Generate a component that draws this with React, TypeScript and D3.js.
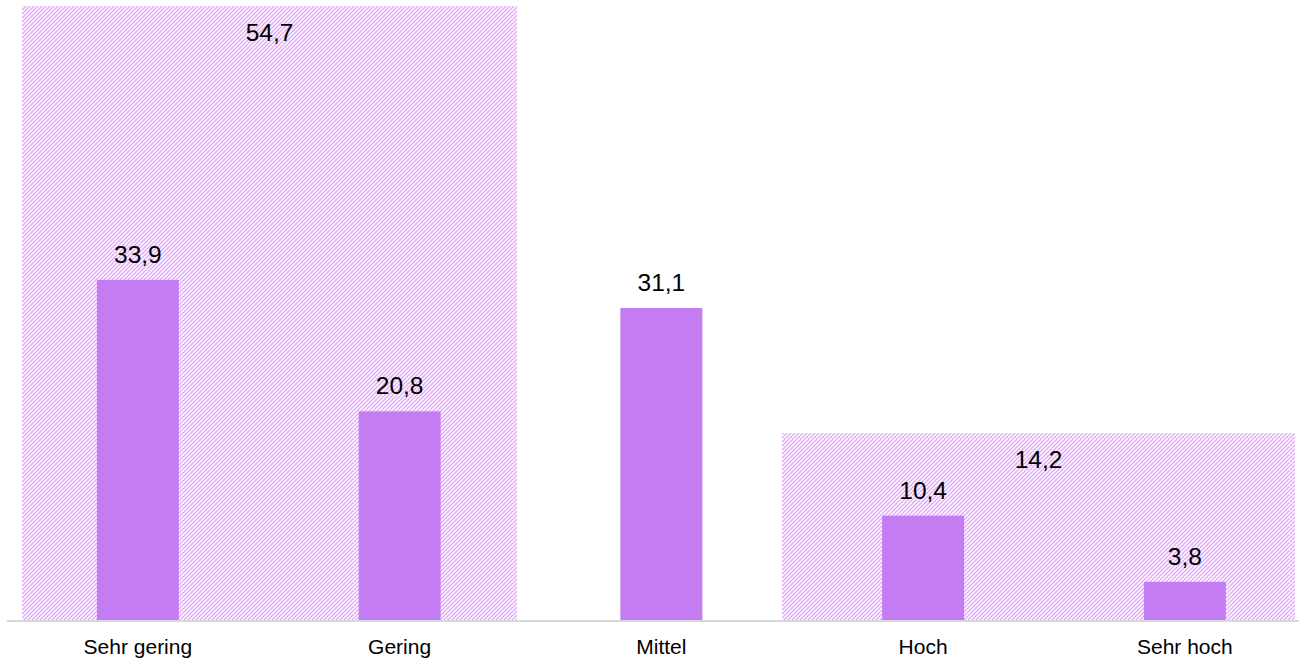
import React from "react";
import * as d3 from "d3";

const categories = ["Sehr gering", "Gering", "Mittel", "Hoch", "Sehr hoch"];
const values = [33.9, 20.8, 31.1, 10.4, 3.8];
const valueLabels = ["33,9", "20,8", "31,1", "10,4", "3,8"];

const groupValues = [54.7, 14.2];
const groupLabels = ["54,7", "14,2"];
const groupStart = [0.057, 2.961];
const groupEnd = [1.948, 4.921];

const W = 1299;
const H = 658;
const left = 7;
const step = 261.75;
const baseY = 620;
const topY = 6;

export default function App() {
  const x = d3.scaleBand<string>().domain(categories).range([left, left + step * categories.length]).paddingInner(0).paddingOuter(0);
  const xi = d3.scaleLinear().domain([0, categories.length]).range([left, left + step * categories.length]);
  const y = d3.scaleLinear().domain([0, 61.2]).range([baseY, topY]);
  const y2 = d3.scaleLinear().domain([0, 46.6]).range([baseY, topY]).clamp(true);
  const barW = 82;
  const font = "Arial, 'Liberation Sans', sans-serif";

  return (
    <svg width={W} height={H} style={{ position: "absolute", left: 0, top: 0 }} fontFamily={font}>
      <defs>
        <pattern id="hatch" width={4} height={4} patternUnits="userSpaceOnUse">
          <path d="M-1,1 l2,-2 M0,4 l4,-4 M3,5 l2,-2" stroke="#e2a6f9" strokeWidth={1.3} />
        </pattern>
      </defs>
      {groupValues.map((v, i) => {
        const x0 = Math.round(xi(groupStart[i]));
        const x1 = Math.round(Math.min(xi(groupEnd[i]), W));
        const yt = Math.round(y2(v));
        return (
          <g key={"g" + i}>
            <rect x={x0} y={yt} width={x1 - x0} height={baseY - yt} fill="url(#hatch)" />
            <text x={(x0 + x1) / 2} y={yt + 35} textAnchor="middle" fontSize={24.5} fill="#000">
              {groupLabels[i]}
            </text>
          </g>
        );
      })}
      {values.map((v, i) => {
        const cx = (x(categories[i]) as number) + x.bandwidth() / 2;
        return (
          <g key={"b" + i}>
            <rect x={cx - barW / 2} y={y(v)} width={barW} height={baseY - y(v)} fill="#c47cf3" />
            <text x={cx} y={y(v) - 17} textAnchor="middle" fontSize={24.5} fill="#000">
              {valueLabels[i]}
            </text>
          </g>
        );
      })}
      <line x1={left} x2={W} y1={baseY + 1} y2={baseY + 1} stroke="#d9d9d9" strokeWidth={2} />
      {categories.map((c) => (
        <text key={c} x={(x(c) as number) + x.bandwidth() / 2} y={654} textAnchor="middle" fontSize={21} fill="#000">
          {c}
        </text>
      ))}
    </svg>
  );
}
